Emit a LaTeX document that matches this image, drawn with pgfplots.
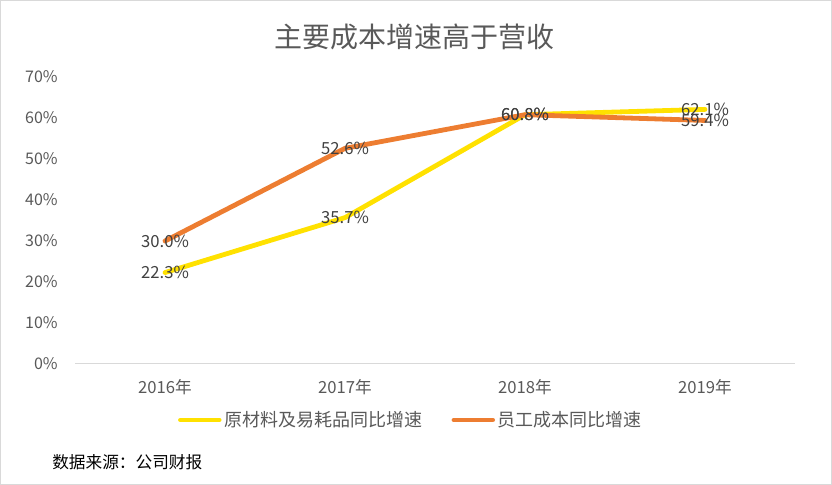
\documentclass[border=0pt]{standalone}
\usepackage{pgfplots}
\pgfplotsset{compat=1.18}
\usepackage{fontspec}
\setmainfont{Noto Sans CJK SC}
\definecolor{yel}{HTML}{FFE100}
\definecolor{ora}{HTML}{ED7D31}
\definecolor{txt}{HTML}{595959}
\definecolor{lbl}{HTML}{404040}
\definecolor{lgray}{HTML}{D9D9D9}
\begin{document}
\begin{tikzpicture}
\useasboundingbox (0,0) rectangle (624pt,363.75pt);
\draw[lgray, line width=0.75pt] (0.4pt,0.4pt) rectangle (623.6pt,363.35pt);
\node[text=txt, font=\fontsize{21}{24}\selectfont] at (311pt,336pt) {主要成本增速高于营收};
\node[anchor=west, font=\fontsize{12.5}{14}\selectfont, inner sep=0pt] at (39pt,17.25pt) {数据来源：公司财报};
\begin{axis}[
  at={(56.25pt,90.75pt)}, anchor=south west,
  scale only axis, width=540pt, height=215.25pt,
  xmin=-0.5, xmax=3.5, ymin=0, ymax=70,
  xtick={0,1,2,3}, xticklabels={2016年,2017年,2018年,2019年},
  ytick={0,10,...,70},
  yticklabel={\pgfmathprintnumber{\tick}\%},
  /pgf/number format/assume math mode=true,
  axis x line=bottom, axis y line=left,
  axis line style={-},
  y axis line style={draw=none},
  x axis line style={draw=lgray, line width=0.75pt},
  tick style={draw=none}, major tick length=0pt,
  ticklabel style={text=txt, font=\fontsize{12}{14}\selectfont},
  xticklabel style={font=\fontsize{12.5}{14}\selectfont, yshift=-8pt},
  yticklabel style={xshift=-9.5pt},
  clip=false,
  legend style={at={(0.467,-0.195)}, anchor=center, draw=none, fill=none,
    legend columns=2, font=\fontsize{13.5}{16}\selectfont, text=txt,
    /tikz/every even column/.append style={column sep=20pt},
    inner sep=0pt},
  legend image code/.code={\draw[#1, line cap=round] (0pt,0pt) -- (29pt,0pt);},
  every axis plot/.append style={line width=3.6pt, line cap=round, line join=round},
]
\addplot[yel, mark=none] coordinates {(0,22.3) (1,35.7) (2,60.8) (3,62.1)};
\addlegendentry{原材料及易耗品同比增速}
\addplot[ora, mark=none] coordinates {(0,30.0) (1,52.6) (2,60.8) (3,59.4)};
\addlegendentry{员工成本同比增速}
\addplot[draw=none, mark=none, forget plot,
  nodes near coords={\pgfmathprintnumber[fixed,fixed zerofill,precision=1]{\pgfplotspointmeta}\%},
  nodes near coords style={anchor=center, text=lbl, font=\fontsize{12.5}{14}\selectfont, inner sep=0pt}]
  coordinates {(0,22.3) (1,35.7) (2,60.8) (3,62.1)};
\addplot[draw=none, mark=none, forget plot,
  nodes near coords={\pgfmathprintnumber[fixed,fixed zerofill,precision=1]{\pgfplotspointmeta}\%},
  nodes near coords style={anchor=center, text=lbl, font=\fontsize{12.5}{14}\selectfont, inner sep=0pt}]
  coordinates {(0,30.0) (1,52.6) (2,60.8) (3,59.4)};
\end{axis}
\end{tikzpicture}
\end{document}
